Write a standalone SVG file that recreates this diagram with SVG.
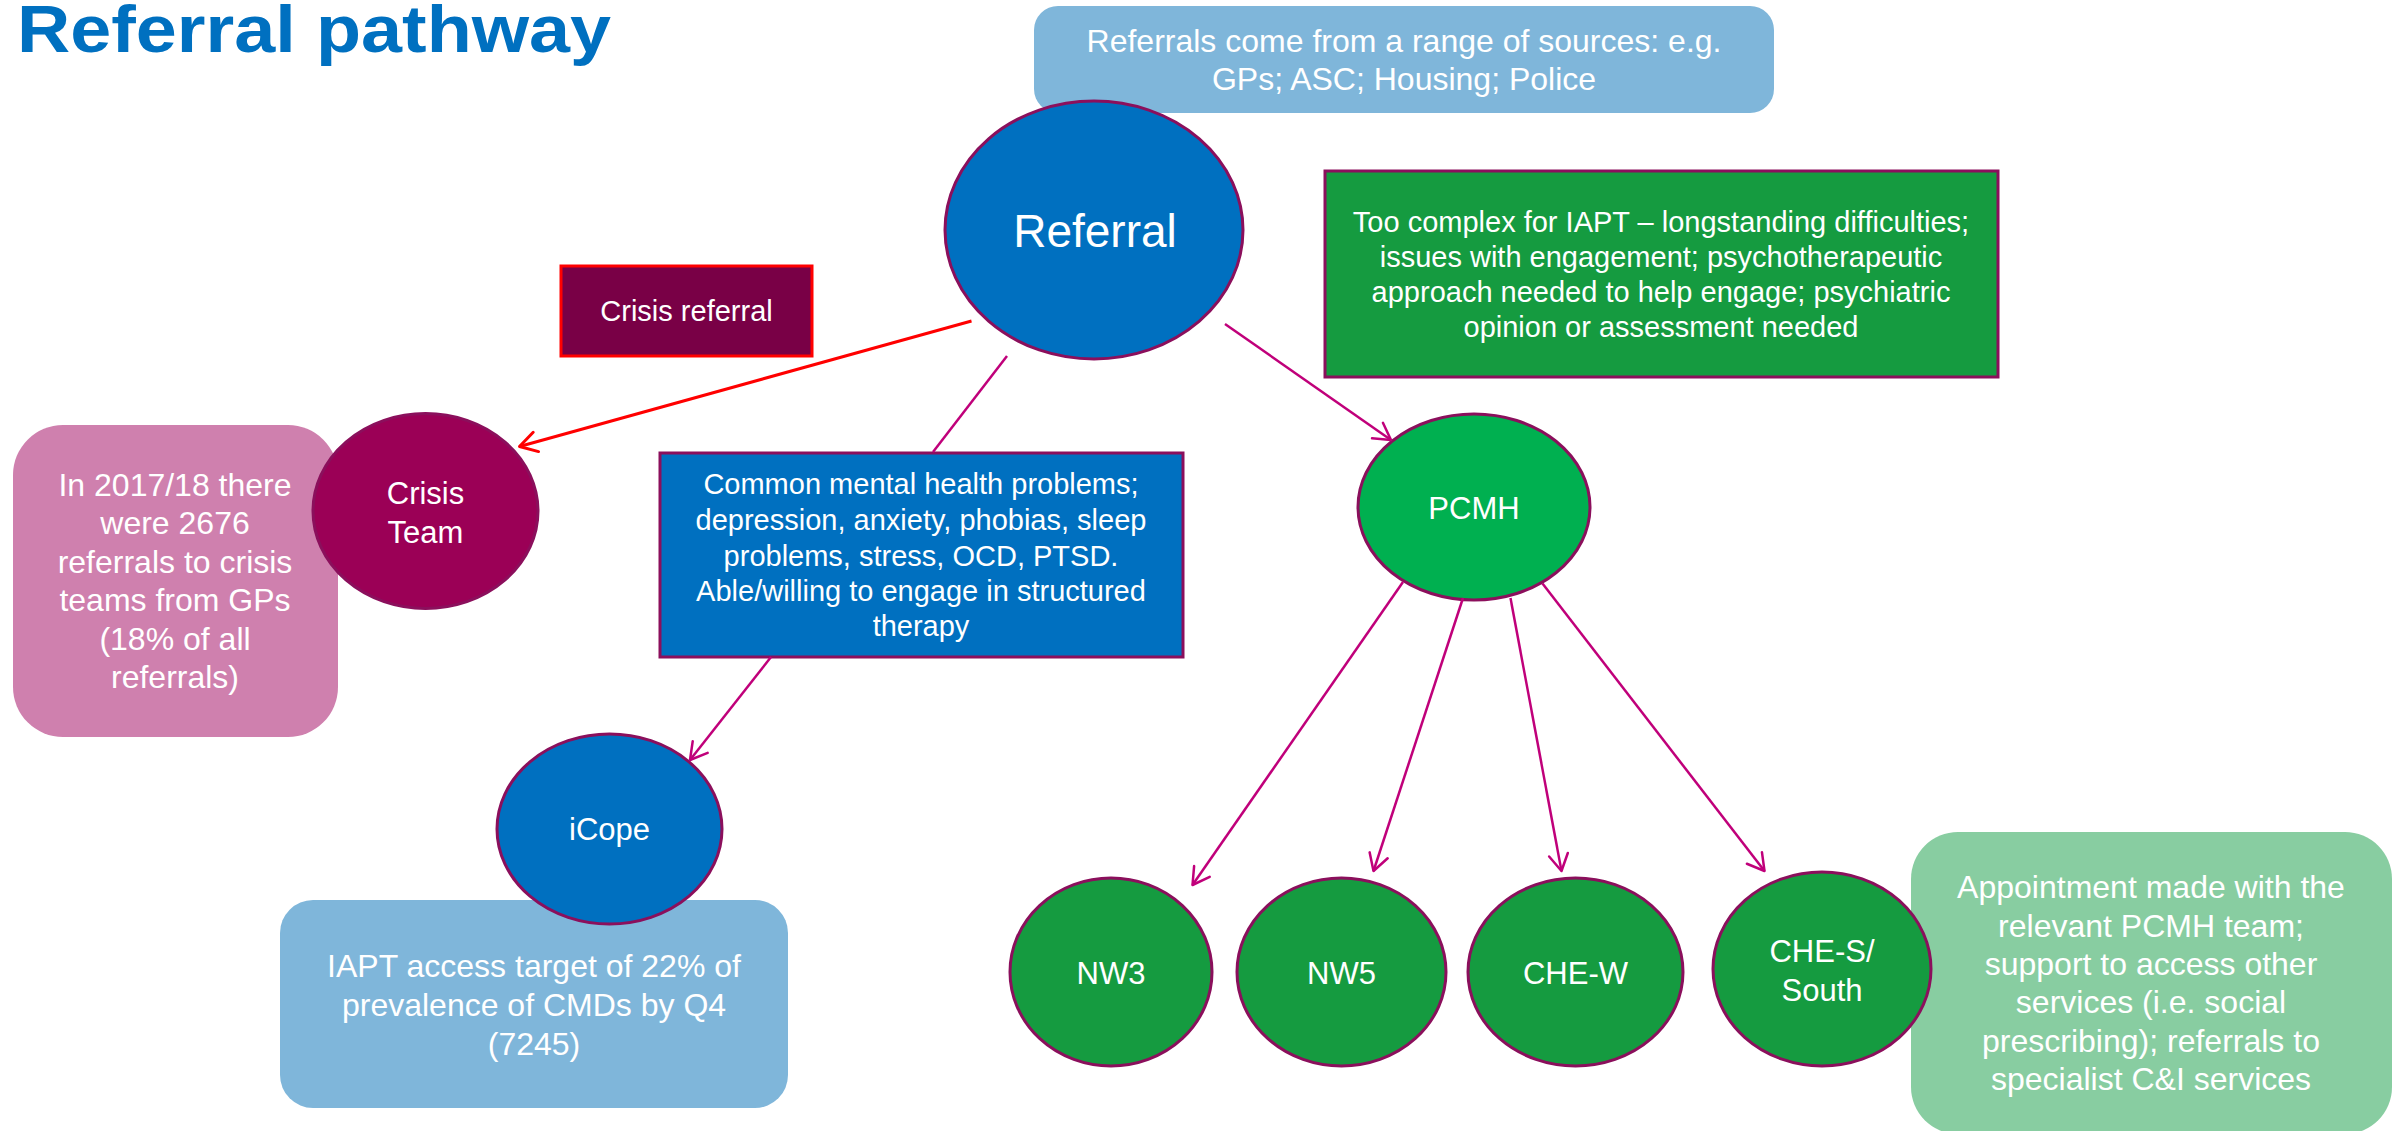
<svg xmlns="http://www.w3.org/2000/svg" width="2402" height="1131" viewBox="0 0 2402 1131">
<style>
  text { font-family: "Liberation Sans", Arial, sans-serif; fill: #FFFFFF; text-anchor: middle; }
  .title { fill: #0070C0; font-weight: bold; text-anchor: start; font-size: 66px; }
  .t29 { font-size: 29px; }
  .t31 { font-size: 31px; }
  .t32 { font-size: 32px; }
  .node { stroke: #8B0F5C; stroke-width: 3; }
  .conn { stroke: #C0007A; stroke-width: 2.5; fill: none; marker-end: url(#arrM); }
  .plain { stroke: #C0007A; stroke-width: 2.5; fill: none; }
  .red { stroke: #FF0000; stroke-width: 3; fill: none; marker-end: url(#arrR); }
</style>
<defs>
  <marker id="arrM" markerUnits="userSpaceOnUse" markerWidth="30" markerHeight="30" viewBox="-22 -15 30 30" refX="0" refY="0" orient="auto" overflow="visible">
    <path d="M-16.5,-9.5 L0,0 L-16.5,9.5" fill="none" stroke="#C0007A" stroke-width="2.5" stroke-linecap="round" stroke-linejoin="round"/>
  </marker>
  <marker id="arrR" markerUnits="userSpaceOnUse" markerWidth="30" markerHeight="30" viewBox="-22 -15 30 30" refX="0" refY="0" orient="auto" overflow="visible">
    <path d="M-17,-10 L0,0 L-17,10" fill="none" stroke="#FF0000" stroke-width="3" stroke-linecap="round" stroke-linejoin="round"/>
  </marker>
</defs>
<rect width="2402" height="1131" fill="#FFFFFF"/>

<text class="title" x="17" y="52" textLength="594" lengthAdjust="spacingAndGlyphs">Referral pathway</text>

<g id="sources">
  <rect x="1034" y="6" width="740" height="107" rx="24" fill="#7FB6DA"/>
  <text class="t32" x="1404" y="52">Referrals come from a range of sources: e.g.</text>
  <text class="t32" x="1404" y="90">GPs; ASC; Housing; Police</text>
</g>

<g id="referral">
  <ellipse class="node" cx="1094" cy="230" rx="149" ry="129" fill="#0070C0"/>
  <text x="1095" y="247" font-size="46">Referral</text>
</g>

<g id="crisis-referral">
  <rect x="561" y="266" width="251" height="90" fill="#790046" stroke="#FF0000" stroke-width="3"/>
  <text class="t29" x="686.5" y="321">Crisis referral</text>
</g>

<g id="complex">
  <rect class="node" x="1325" y="171" width="673" height="206" fill="#159B40"/>
  <text class="t29" x="1661" y="232">Too complex for IAPT – longstanding difficulties;</text>
  <text class="t29" x="1661" y="267">issues with engagement; psychotherapeutic</text>
  <text class="t29" x="1661" y="302">approach needed to help engage; psychiatric</text>
  <text class="t29" x="1661" y="337">opinion or assessment needed</text>
</g>

<g id="crisis-stats">
  <rect x="13" y="425" width="325" height="312" rx="50" fill="#CF80AE"/>
  <text class="t32" x="175" y="496">In 2017/18 there</text>
  <text class="t32" x="175" y="534">were 2676</text>
  <text class="t32" x="175" y="573">referrals to crisis</text>
  <text class="t32" x="175" y="611">teams from GPs</text>
  <text class="t32" x="175" y="650">(18% of all</text>
  <text class="t32" x="175" y="688">referrals)</text>
</g>

<g id="crisis-team">
  <ellipse class="node" cx="425.5" cy="511" rx="112.5" ry="97.5" fill="#9B0056"/>
  <text class="t31" x="425.5" y="504">Crisis</text>
  <text class="t31" x="425.5" y="543">Team</text>
</g>

<g id="common">
  <rect class="node" x="660" y="453" width="523" height="204" fill="#0070C0"/>
  <text class="t29" x="921" y="494">Common mental health problems;</text>
  <text class="t29" x="921" y="530">depression, anxiety, phobias, sleep</text>
  <text class="t29" x="921" y="566">problems, stress, OCD, PTSD.</text>
  <text class="t29" x="921" y="601">Able/willing to engage in structured</text>
  <text class="t29" x="921" y="636">therapy</text>
</g>

<g id="iapt-target">
  <rect x="280" y="900" width="508" height="208" rx="33" fill="#7FB6DA"/>
  <text class="t32" x="534" y="977">IAPT access target of 22% of</text>
  <text class="t32" x="534" y="1016">prevalence of CMDs by Q4</text>
  <text class="t32" x="534" y="1055">(7245)</text>
</g>

<g id="icope">
  <ellipse class="node" cx="609.5" cy="829" rx="112.5" ry="95" fill="#0070C0"/>
  <text class="t31" x="609.5" y="840">iCope</text>
</g>

<g id="pcmh">
  <ellipse class="node" cx="1474" cy="507" rx="116" ry="93" fill="#00B050"/>
  <text class="t31" x="1474" y="519">PCMH</text>
</g>

<g id="appointment">
  <rect x="1911" y="832" width="481" height="302" rx="47" fill="#88CDA1"/>
  <text class="t32" x="2151" y="898">Appointment made with the</text>
  <text class="t32" x="2151" y="937">relevant PCMH team;</text>
  <text class="t32" x="2151" y="975">support to access other</text>
  <text class="t32" x="2151" y="1013">services (i.e. social</text>
  <text class="t32" x="2151" y="1052">prescribing); referrals to</text>
  <text class="t32" x="2151" y="1090">specialist C&amp;I services</text>
</g>

<g id="nw3">
  <ellipse class="node" cx="1111" cy="972" rx="101" ry="94" fill="#159B40"/>
  <text class="t31" x="1111" y="984">NW3</text>
</g>
<g id="nw5">
  <ellipse class="node" cx="1341.5" cy="972" rx="104.5" ry="94" fill="#159B40"/>
  <text class="t31" x="1341.5" y="984">NW5</text>
</g>
<g id="che-w">
  <ellipse class="node" cx="1575.5" cy="972" rx="107.5" ry="94" fill="#159B40"/>
  <text class="t31" x="1575.5" y="984">CHE-W</text>
</g>
<g id="che-s">
  <ellipse class="node" cx="1822" cy="969" rx="109" ry="97" fill="#159B40"/>
  <text class="t31" x="1822" y="962">CHE-S/</text>
  <text class="t31" x="1822" y="1001">South</text>
</g>

<g id="connectors">
  <line class="red" x1="971.5" y1="321" x2="519.5" y2="446.5"/>
  <line class="plain" x1="1007" y1="356" x2="933" y2="452"/>
  <line class="conn" x1="771" y1="657" x2="690" y2="760"/>
  <line class="conn" x1="1225" y1="324" x2="1391" y2="440"/>
  <line class="conn" x1="1403" y1="582" x2="1192.5" y2="885"/>
  <line class="conn" x1="1463" y1="598" x2="1373.5" y2="871"/>
  <line class="conn" x1="1510.5" y1="598" x2="1561.5" y2="871"/>
  <line class="conn" x1="1542.5" y1="583.5" x2="1764.5" y2="871"/>
</g>
</svg>
